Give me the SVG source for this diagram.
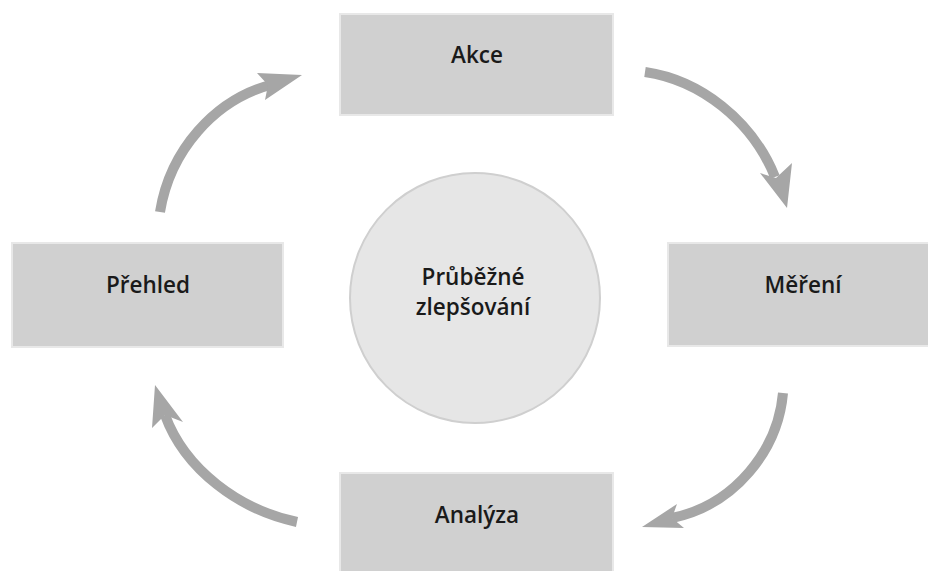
<svg xmlns="http://www.w3.org/2000/svg" width="928" height="571" viewBox="0 0 928 571">
<style>
.box{fill:#d0d0d0;stroke:#e8e8e8;stroke-width:2}
.lbl{font-family:"Open Sans","Noto Sans","DejaVu Sans",sans-serif;font-weight:600;font-size:22.5px;fill:#1a1a1a;text-anchor:middle}
.arc{fill:none;stroke:#a6a6a6;stroke-width:10}
.head{fill:#a6a6a6}
</style>
<rect width="928" height="571" fill="#ffffff"/>
<g id="akce"><rect class="box" x="340" y="14" width="273" height="101"/><text class="lbl" x="477" y="63">Akce</text></g>
<g id="mereni"><rect class="box" x="668" y="243" width="262" height="103"/><text class="lbl" x="803" y="293">Měření</text></g>
<g id="analyza"><rect class="box" x="340" y="473" width="273" height="100"/><text class="lbl" x="477" y="523">Analýza</text></g>
<g id="prehled"><rect class="box" x="12" y="243" width="271" height="104"/><text class="lbl" x="148" y="293">Přehled</text></g>
<g id="center"><circle cx="475" cy="298" r="125" fill="#e6e6e6" stroke="#cfcfcf" stroke-width="2"/><text class="lbl" x="473" y="285">Průběžné</text><text class="lbl" x="473" y="315">zlepšování</text></g>
<g id="connectors">
<path class="arc" d="M645,72 C700,80 752,120 775,177"/>
<polygon class="head" points="760,173 787,208 792,163 776,178"/>
<path class="arc" d="M783,393 C778,450 735,505 672,518"/>
<polygon class="head" points="677,504 642,527 684,528 672,518"/>
<path class="arc" d="M297,522 C240,510 185,470 165,415"/>
<polygon class="head" points="152,428 155,385 183,422 165,415"/>
<path class="arc" d="M160,212 C170,150 215,100 270,85"/>
<polygon class="head" points="257,73 302,75 265,100 268,85"/>
</g>
</svg>
